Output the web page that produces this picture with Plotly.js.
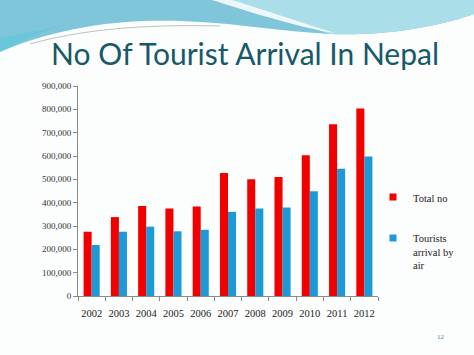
<!DOCTYPE html>
<html>
<head>
<meta charset="utf-8">
<script src="https://cdn.plot.ly/plotly-3.0.1.min.js"></script>
<style>html,body{margin:0;padding:0;background:#fcfdfd;}#chart{width:474px;height:355px;}</style>
</head>
<body>
<div id="chart"></div>
<script>
const years = ["2002","2003","2004","2005","2006","2007","2008","2009","2010","2011","2012"];
const totalNo = [275468,338132,385297,375398,383926,526705,500277,509956,602867,736215,803092];
const byAir = [218660,275438,297335,277346,283819,360713,374661,379322,448800,545221,598204];
const yTicks = [0,100000,200000,300000,400000,500000,600000,700000,800000,900000];

const W = 474, H = 355;
const M = {l:78, r:96, t:86, b:59, autoexpand:false};
const pw = W - M.l - M.r, ph = H - M.t - M.b;
// convert a pixel path into paper coordinates (decoration only)
function pp(path){
  return path.replace(/(-?\d+\.?\d*),(-?\d+\.?\d*)/g, function(m,a,b){
    const x = (parseFloat(a)-M.l)/pw;
    const y = (H-M.b-parseFloat(b))/ph;
    return x.toFixed(4)+","+y.toFixed(4);
  });
}

const shapes = [
  {type:"path", xref:"paper", yref:"paper", layer:"below", line:{width:0},
   fillcolor:"#80c6da",
   path: pp("M0,0 L474,0 L474,14 C430,30 370,36 330,34 C280,31 240,24 200,22 C140,18 70,22 0,52 Z")},
  {type:"path", xref:"paper", yref:"paper", layer:"below", line:{width:0},
   fillcolor:"#aadee9",
   path: pp("M230,0 L474,0 L474,14 C430,30 370,36 330,34 C300,24 260,10 230,0 Z")},
  {type:"path", xref:"paper", yref:"paper", layer:"below", line:{width:0},
   fillcolor:"#ffffff", opacity:0.85,
   path: pp("M212,0 L232,0 C270,12 305,24 335,33 C300,28 250,12 212,0 Z")},
  {type:"path", xref:"paper", yref:"paper", layer:"below", line:{width:0},
   fillcolor:"#5fc8dc", opacity:0.7,
   path: pp("M0,38 C20,34 40,30 60,26 C40,32 20,42 0,52 Z")},
  {type:"path", xref:"paper", yref:"paper", layer:"below",
   line:{color:"#b8c4c8", width:1},
   path: pp("M30,44 C80,30 140,24 220,26")}
];

const traces = [
  {type:"bar", name:"Total no", x:years, y:totalNo, marker:{color:"#f10000"}, showlegend:false},
  {type:"bar", name:"Tourists arrival by air", x:years, y:byAir, marker:{color:"#1d9ad6"}, showlegend:false},
  {type:"scatter", mode:"markers", name:"Total no", x:[null], y:[null],
   marker:{symbol:"square", size:7, color:"#f10000"}, legendgroup:"a"},
  {type:"scatter", mode:"markers", name:"Tourists<br>arrival by<br>air", x:[null], y:[null],
   marker:{symbol:"square", size:7, color:"#1d9ad6"}, legendgroup:"b"}
];

const layout = {
  width:W, height:H,
  margin:M,
  paper_bgcolor:"#fcfdfd",
  plot_bgcolor:"rgba(0,0,0,0)",
  barmode:"group",
  bargap:0.41,
  bargroupgap:0,
  title:{text:"No Of Tourist Arrival In Nepal", font:{family:"Lato", size:30, color:"#17596b"},
         x:0.517, xanchor:"center", y:0.846, yanchor:"middle"},
  xaxis:{type:"category", range:[-0.5,10.5], showline:true, linecolor:"#8a8a8a", linewidth:1,
         ticks:"outside", tickson:"boundaries", ticklen:4, tickcolor:"#8a8a8a", tickangle:0,
         ticklabelstandoff:7, automargin:false,
         tickfont:{family:"Liberation Serif", size:10.5, color:"#222"}, showgrid:false, zeroline:false},
  yaxis:{range:[0,900000], tickvals:yTicks, ticktext:yTicks.map(v=>v.toLocaleString("en-US")),
         showline:true, linecolor:"#8a8a8a", linewidth:1, ticks:"outside", ticklen:4, tickcolor:"#8a8a8a",
         automargin:false,
         tickfont:{family:"Liberation Serif", size:9, color:"#333"}, showgrid:false, zeroline:false},
  legend:{x:(373-M.l)/pw, xanchor:"left", y:0.535, yanchor:"top", bgcolor:"rgba(0,0,0,0)",
          font:{family:"Liberation Serif", size:10.5, color:"#222"}, valign:"top",
          traceorder:"grouped", tracegroupgap:22, itemwidth:30},
  shapes:shapes,
  annotations:[
    {text:"12", xref:"paper", yref:"paper", x:(447-M.l)/pw, y:(H-M.b-343)/ph,
     showarrow:false, font:{family:"Liberation Serif", size:7, color:"#3a7f8f"}}
  ]
};

Plotly.newPlot("chart", traces, layout, {displayModeBar:false, staticPlot:true});
</script>
</body>
</html>
